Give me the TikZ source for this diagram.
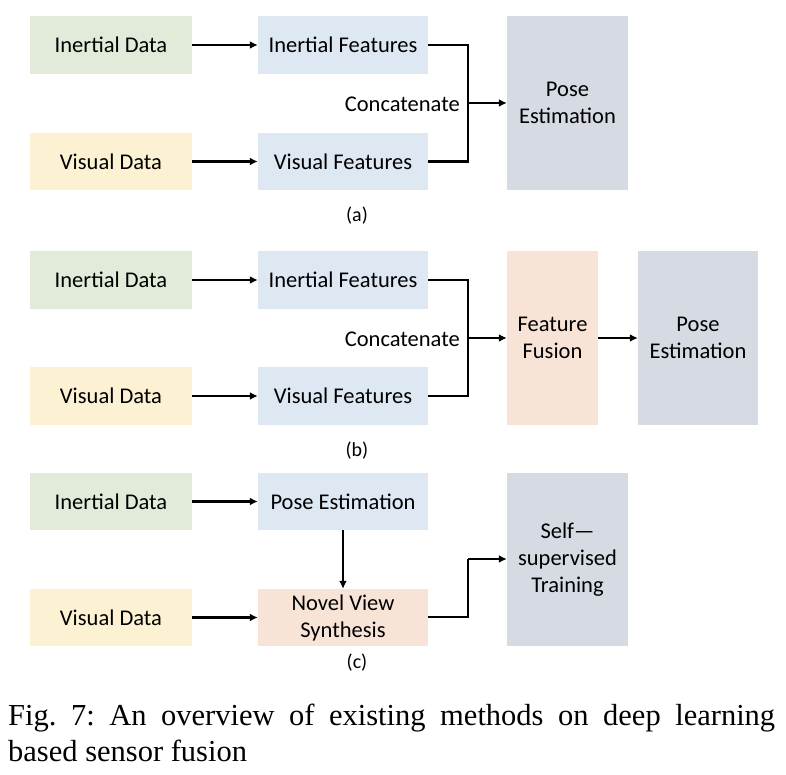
\documentclass[tikz,border=0pt]{standalone}
\usepackage{fontspec}
\setmainfont{Carlito}
\newfontfamily\capfont{Liberation Serif}
\usetikzlibrary{arrows.meta}
\definecolor{cgreen}{HTML}{E2EBD9}
\definecolor{cblue}{HTML}{DEE8F3}
\definecolor{cyellow}{HTML}{FCF2D3}
\definecolor{cpeach}{HTML}{F8E4D6}
\definecolor{cgrey}{HTML}{D6DAE3}
\tikzset{
  blk/.style={draw=none, inner sep=0pt, align=center, font=\fontsize{22.5}{27}\selectfont},
  arr/.style={line width=2.2pt, -{Latex[length=8pt,width=8pt]}},
  ln/.style={line width=2.2pt},
  lab/.style={font=\fontsize{20}{24}\selectfont}
}
\newcommand{\bx}[7]{\node[blk, fill=#6, minimum width=#4-#2, minimum height=#5-#3] (#1) at ({(#2+#4)/2},{(#3+#5)/2}) {#7};}
\begin{document}
\begin{tikzpicture}[x=1pt,y=-1pt]
\useasboundingbox (0,0) rectangle (786,775);
% (a)
\bx{aid}{30}{16}{192}{74}{cgreen}{Inertial Data}
\bx{aif}{258}{16}{428}{74}{cblue}{Inertial Features}
\bx{avd}{30}{133}{192}{190}{cyellow}{Visual Data}
\bx{avf}{258}{133}{428}{190}{cblue}{Visual Features}
\bx{ape}{507}{16}{628}{190}{cgrey}{Pose\\Estimation}
\draw[arr] (aid) -- (aif);
\draw[arr] (avd) -- (avf);
\coordinate (aj) at (468,103);
\draw[ln] (aif.east) -| (aj) |- (avf.east);
\draw[arr] (aj) -- (ape.west |- aj);
\node[blk, anchor=east] (acat) at (460,104) {Concatenate};
\node[lab] (la) at (357,216) {(a)};
% (b)
\bx{bid}{30}{251}{192}{309}{cgreen}{Inertial Data}
\bx{bif}{258}{251}{428}{309}{cblue}{Inertial Features}
\bx{bvd}{30}{367}{192}{425}{cyellow}{Visual Data}
\bx{bvf}{258}{367}{428}{425}{cblue}{Visual Features}
\bx{bff}{507}{251}{598}{425}{cpeach}{Feature\\Fusion}
\bx{bpe}{638}{251}{758}{425}{cgrey}{Pose\\Estimation}
\draw[arr] (bid) -- (bif);
\draw[arr] (bvd) -- (bvf);
\coordinate (bj) at (468,338);
\draw[ln] (bif.east) -| (bj) |- (bvf.east);
\draw[arr] (bj) -- (bff.west |- bj);
\draw[arr] (bff.east |- bj) -- (bpe.west |- bj);
\node[blk, anchor=east] (bcat) at (460,339) {Concatenate};
\node[lab] (lb) at (357,451) {(b)};
% (c)
\bx{cid}{30}{473}{192}{530}{cgreen}{Inertial Data}
\bx{cpe}{258}{473}{428}{530}{cblue}{Pose Estimation}
\bx{cvd}{30}{589}{192}{646}{cyellow}{Visual Data}
\bx{cnv}{258}{589}{428}{646}{cpeach}{Novel View\\Synthesis}
\bx{cst}{507}{473}{628}{646}{cgrey}{Self—\\supervised\\Training}
\draw[arr] (cid) -- (cpe);
\draw[arr] (cvd) -- (cnv);
\draw[arr] (cpe) -- (cnv);
\coordinate (cj) at (468,559);
\draw[ln] (cnv.east |- 0,617) -| (cj);
\draw[arr] (cj) -- (cst.west |- cj);
\node[lab] (lc) at (357,663) {(c)};
% caption
\node[anchor=north west, inner sep=0pt, text width=767pt, align=justify,
  font=\capfont\fontsize{30.5}{36}\selectfont\frenchspacing] (cap) at (8,704)
  {Fig. 7: An overview of existing methods on deep learning\linebreak based sensor fusion};
\end{tikzpicture}
\end{document}
